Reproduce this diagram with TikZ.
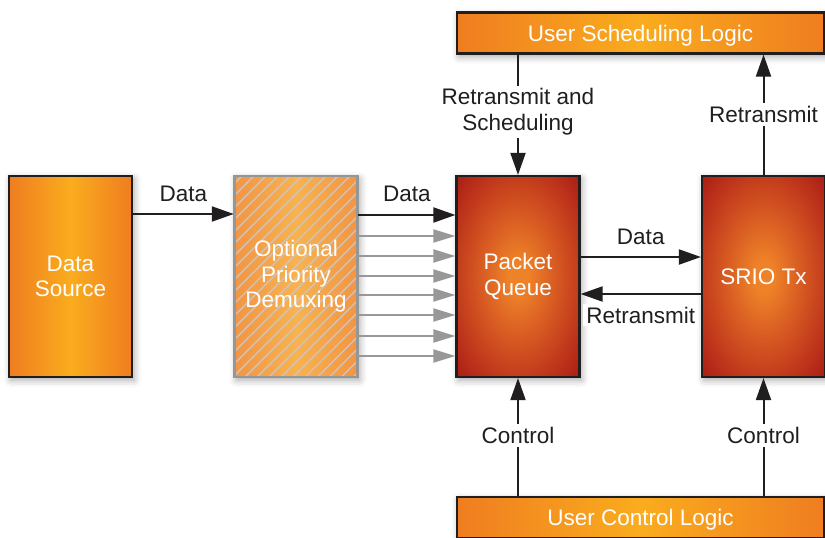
\documentclass[tikz,border=0pt]{standalone}
\usepackage{fontspec}
\setmainfont{Liberation Sans}
\usetikzlibrary{arrows.meta,patterns.meta,shadows.blur}
\definecolor{oedge}{RGB}{239,125,32}
\definecolor{omid}{RGB}{250,172,30}
\definecolor{pqout}{RGB}{155,12,18}
\definecolor{pqa}{RGB}{214,88,34}
\definecolor{pqb}{RGB}{188,50,26}
\definecolor{pqin}{RGB}{238,130,40}
\definecolor{dmedge}{RGB}{244,148,66}
\definecolor{dmmid}{RGB}{249,178,76}
\definecolor{hatch}{RGB}{204,196,190}
\definecolor{graybdr}{RGB}{150,150,150}
\definecolor{garrow}{RGB}{152,152,154}
\definecolor{ink}{RGB}{32,30,30}
\pgfdeclareradialshading{pqglow}{\pgfpoint{0bp}{0bp}}{color(0bp)=(pqin); color(4bp)=(pqin); color(16bp)=(pqa); color(28bp)=(pqb); color(41bp)=(pqout); color(100bp)=(pqout)}
\begin{document}
\begin{tikzpicture}[x=1pt,y=-1pt,
  font=\fontsize{22.5}{25.5}\selectfont,
  box/.style={draw=ink, line width=2.2pt, minimum width=123pt, minimum height=201pt,
    text=white, align=center, inner sep=0pt,
    blur shadow={shadow xshift=2pt, shadow yshift=-3pt, shadow blur radius=7pt, shadow opacity=35}},
  obox/.style={box, left color=oedge, right color=oedge, middle color=omid},
  rbox/.style={box, shading=pqglow},
  dbox/.style={box, draw=graybdr,
    preaction={left color=dmedge, right color=dmedge, middle color=dmmid},
    pattern={Lines[angle=45,distance=8.5pt,line width=1.4pt]}, pattern color=hatch},
  bar/.style={obox, minimum width=367pt, minimum height=41pt, text depth=0pt},
  arr/.style={draw=ink, line width=2pt, -{Triangle[length=22pt,width=15pt]}},
  garr/.style={draw=garrow, line width=2pt, -{Triangle[length=22pt,width=13pt]}},
  lbl/.style={fill=white, text=ink, align=center, inner sep=3pt}
]
\useasboundingbox (0,0) rectangle (825,538);

\node[obox] (src) at (70.5,276.5) {Data\\Source};
\node[dbox] (dmx) at (296,276.5) {Optional\\Priority\\Demuxing};
\node[rbox] (pq) at (518,276.5) {Packet\\Queue};
\node[rbox] (srio) at (763.5,276.5) {SRIO Tx};
\node[bar] (usl) at (640.5,33) {User Scheduling Logic};
\node[bar] (ucl) at (640.5,517.5) {User Control Logic};

% source -> demux
\draw[arr] (src.east |- 0,214) -- (dmx.west |- 0,214)
  node[lbl, midway, yshift=20pt] {Data};
% demux -> packet queue
\draw[arr] (dmx.east |- 0,215) -- (pq.west |- 0,215)
  node[lbl, midway, yshift=21pt] {Data};
\foreach \yy in {236,256,276,295,315,336,356}
  \draw[garr] (dmx.east |- 0,\yy) -- (pq.west |- 0,\yy);
% packet queue <-> srio
\draw[arr] (pq.east |- 0,257) -- (srio.west |- 0,257)
  node[lbl, midway, yshift=20pt] {Data};
\draw[arr] (srio.west |- 0,294) -- (pq.east |- 0,294)
  node[lbl, midway, yshift=-21pt] {Retransmit};
% vertical links
\draw[arr] (usl.south -| pq) -- (pq.north)
  node[lbl, pos=0.475] {Retransmit and\\Scheduling};
\draw[arr] (srio.north) -- (usl.south -| srio)
  node[lbl, midway] {Retransmit};
\draw[arr] (ucl.north -| pq) -- (pq.south)
  node[lbl, midway, yshift=1.5pt] {Control};
\draw[arr] (ucl.north -| srio) -- (srio.south)
  node[lbl, midway, yshift=1.5pt] {Control};
\end{tikzpicture}
\end{document}
